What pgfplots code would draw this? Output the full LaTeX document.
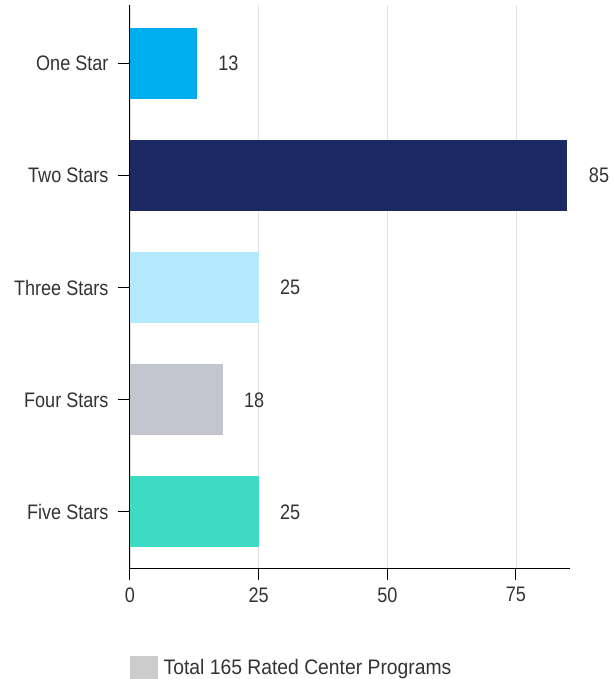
\documentclass[border=0pt]{standalone}
\usepackage{pgfplots}
\pgfplotsset{compat=1.18}
\usepackage{fontspec}
\setmainfont{Liberation Sans}[FakeStretch=0.86]
\newfontfamily\legfont{Liberation Sans}[FakeStretch=0.92]
\definecolor{c1}{HTML}{00AEEF}
\definecolor{c2}{HTML}{1B2A63}
\definecolor{c3}{HTML}{B3E8FD}
\definecolor{c4}{HTML}{C4C6CF}
\definecolor{c5}{HTML}{3DDBC4}
\definecolor{txt}{HTML}{333333}
\definecolor{gridc}{HTML}{E2E2E2}
\definecolor{leg}{HTML}{CCCCCC}
\begin{document}
\begin{tikzpicture}
\useasboundingbox (-130pt,-111pt) rectangle (483pt,568pt);
\begin{axis}[
  at={(0,0)}, anchor=south west,
  scale only axis, width=440pt, height=563pt,
  xbar, bar width=71pt, bar shift=0pt,
  xmin=0, xmax=85.5, ymin=-0.52, ymax=4.5, y dir=reverse,
  ytick={0,1,2,3,4},
  yticklabels={One Star,Two Stars,Three Stars,Four Stars,Five Stars},
  xtick={0,25,50,75},
  axis x line=bottom, axis y line=left,
  axis line style={-, black, line width=1pt},
  tick align=outside, major tick length=12pt,
  tick style={black, line width=1pt},
  xmajorgrids, grid style={gridc, line width=0.8pt},
  /pgf/number format/assume math mode=true,
  ticklabel style={font=\fontsize{21}{23}\selectfont, text=txt},
  xticklabel style={yshift=-4pt},
  yticklabel style={xshift=-6pt},
  nodes near coords,
  every node near coord/.append style={font=\fontsize{21}{23}\selectfont, text=txt, anchor=west, xshift=18pt},
  legend style={at={(0,-88pt)}, anchor=north west, draw=none, inner sep=0pt, font=\legfont\fontsize{21}{23}\selectfont, text=txt},
  legend cell align=left,
]
\addlegendimage{legend image code/.code={\fill[leg] (0pt,-11pt) rectangle (27pt,11pt);}, }
\addlegendentry{\hspace{4pt}Total 165 Rated Center Programs}
\addplot[fill=c1, draw=none, forget plot] coordinates {(13,0)};
\addplot[fill=c2, draw=none, forget plot] coordinates {(85,1)};
\addplot[fill=c3, draw=none, forget plot] coordinates {(25,2)};
\addplot[fill=c4, draw=none, forget plot] coordinates {(18,3)};
\addplot[fill=c5, draw=none, forget plot] coordinates {(25,4)};
\end{axis}
\end{tikzpicture}
\end{document}
